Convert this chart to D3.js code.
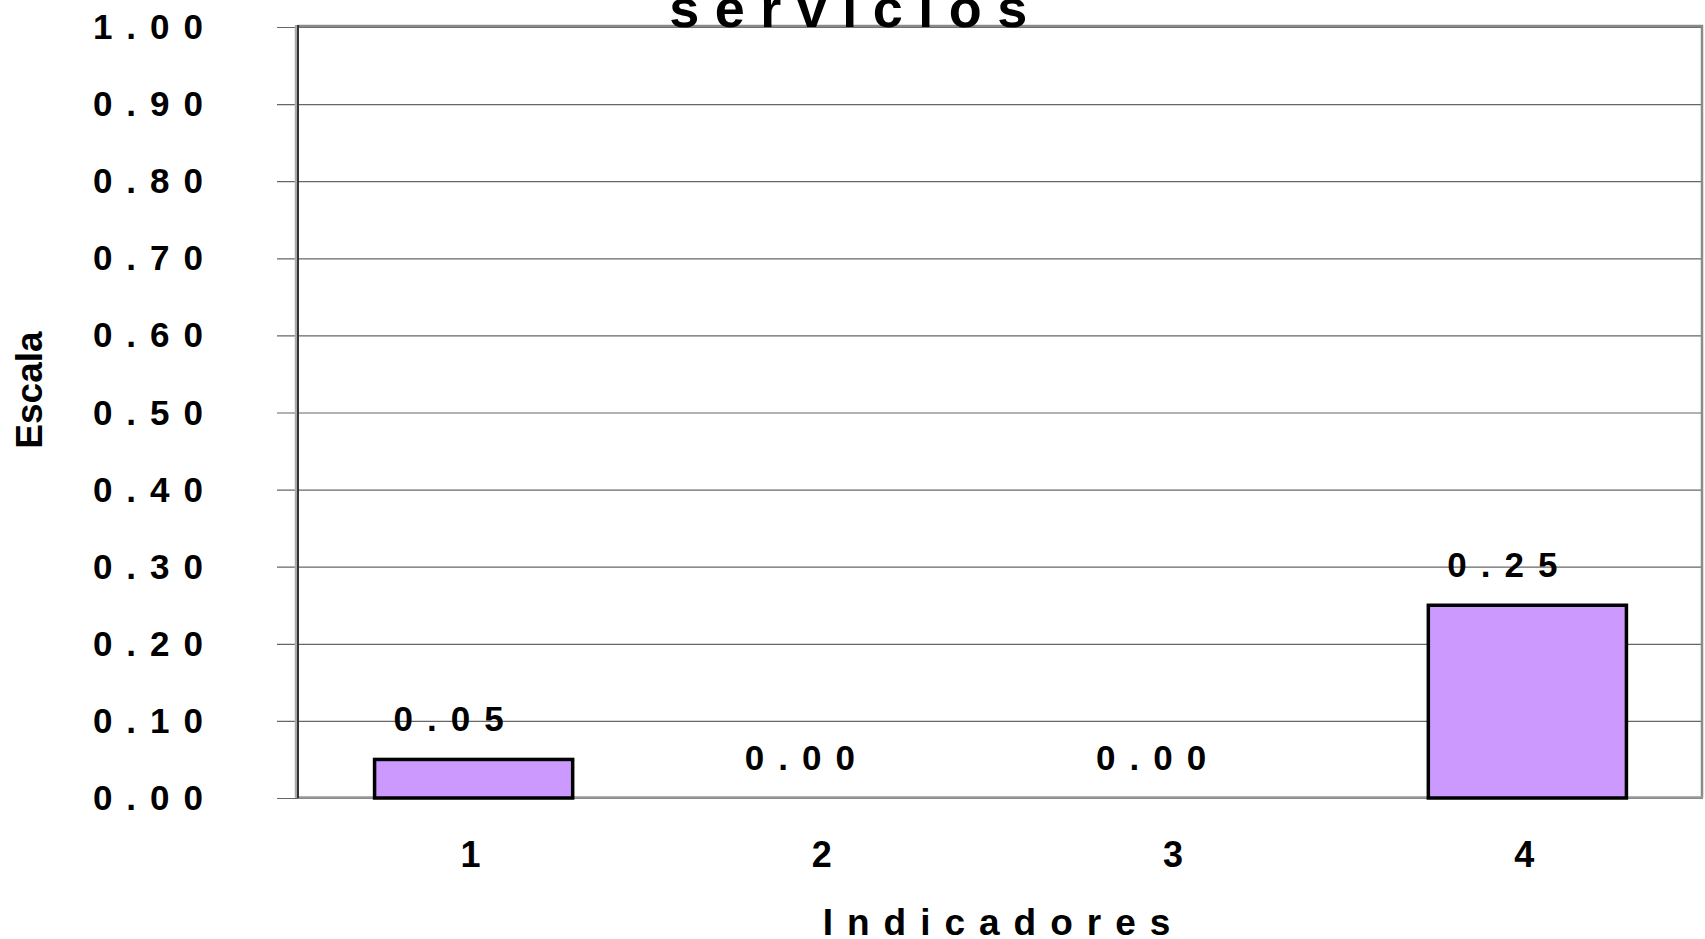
<!DOCTYPE html>
<html>
<head>
<meta charset="utf-8">
<script src="https://cdn.jsdelivr.net/npm/d3@7"></script>
<style>
  html, body { margin: 0; padding: 0; background: #ffffff; }
  svg { display: block; }
  text { font-family: "Liberation Sans", Arial, sans-serif; font-weight: bold; fill: #000; }
</style>
</head>
<body>
<svg id="chart" width="1705" height="939"></svg>
<script>
// Indicator values
const categories = [1, 2, 3, 4];
const values = [0.05, 0.00, 0.00, 0.25];
const yTicks = [0, 0.1, 0.2, 0.3, 0.4, 0.5, 0.6, 0.7, 0.8, 0.9, 1.0];
const titleText = "servicios";
const xTitle = "Indicadores";
const yTitle = "Escala";

const svg = d3.select("#chart");
const plotLeft = 298, plotRight = 1703, plotTop = 27, plotBottom = 798;

const x = d3.scaleBand()
  .domain(categories)
  .range([plotLeft, plotRight])
  .paddingInner(0.436)
  .paddingOuter(0.218);

const y = d3.scaleLinear().domain([0, 1]).range([plotBottom, plotTop]);
const fmt = d3.format(".2f");
const ls = 14;

// Horizontal gridlines, extended left as tick marks
svg.append("g")
  .attr("transform", `translate(${plotLeft},0)`)
  .call(d3.axisLeft(y).tickValues(yTicks).tickSize(-(plotRight - plotLeft)).tickFormat(""))
  .call(g => g.select(".domain").remove())
  .call(g => g.selectAll(".tick line")
    .attr("stroke", "#666").attr("stroke-width", 1.2)
    .attr("x1", -(plotLeft - 277)));

// Plot frame: top and right border, baseline
svg.append("line").attr("x1", plotLeft).attr("x2", plotRight).attr("y1", plotTop - 1).attr("y2", plotTop - 1)
  .attr("stroke", "#8a8a8a").attr("stroke-width", 2.5);
svg.append("line").attr("x1", plotRight - 1).attr("x2", plotRight - 1).attr("y1", plotTop - 2).attr("y2", plotBottom)
  .attr("stroke", "#8a8a8a").attr("stroke-width", 2.5);
svg.append("line").attr("x1", plotLeft).attr("x2", plotRight).attr("y1", plotBottom - 0.5).attr("y2", plotBottom - 0.5)
  .attr("stroke", "#999").attr("stroke-width", 2.5);

// Left axis line with its shadow
svg.append("line").attr("x1", plotLeft - 2).attr("x2", plotLeft - 2).attr("y1", plotTop - 2).attr("y2", plotBottom)
  .attr("stroke", "#aaa").attr("stroke-width", 2.5);
svg.append("line").attr("x1", plotLeft).attr("x2", plotLeft).attr("y1", plotTop - 2).attr("y2", plotBottom)
  .attr("stroke", "#333").attr("stroke-width", 2);

// Y tick labels
svg.append("g").selectAll("text")
  .data(yTicks)
  .join("text")
  .attr("x", 203 + ls)
  .attr("y", d => y(d) + 12)
  .attr("text-anchor", "end")
  .attr("font-size", 35)
  .attr("letter-spacing", ls)
  .text(d => fmt(d));

// Bars
svg.append("g").selectAll("rect")
  .data(values)
  .join("rect")
  .attr("x", (d, i) => x(categories[i]))
  .attr("y", d => y(d))
  .attr("width", x.bandwidth())
  .attr("height", d => y(0) - y(d))
  .attr("fill", "#cc99ff")
  .attr("stroke", d => d > 0 ? "#000" : "none")
  .attr("stroke-width", 3.5);

// Value labels
svg.append("g").selectAll("text")
  .data(values)
  .join("text")
  .attr("x", (d, i) => x(categories[i]) + x.bandwidth() / 2 - 18)
  .attr("y", d => y(d) - 28)
  .attr("text-anchor", "middle")
  .attr("font-size", 35)
  .attr("letter-spacing", ls)
  .text(d => fmt(d));

// Category labels
svg.append("g").selectAll("text")
  .data(categories)
  .join("text")
  .attr("x", d => x(d) + x.bandwidth() / 2 + 4)
  .attr("y", 867)
  .attr("text-anchor", "middle")
  .attr("font-size", 36)
  .attr("letter-spacing", ls)
  .text(d => d);

// Axis titles
svg.append("text")
  .attr("x", (plotLeft + plotRight) / 2 + 3)
  .attr("y", 935)
  .attr("text-anchor", "middle")
  .attr("font-size", 37)
  .attr("letter-spacing", ls)
  .text(xTitle);

svg.append("text")
  .attr("transform", "translate(42,390) rotate(-90)")
  .attr("text-anchor", "middle")
  .attr("font-size", 37)
  .text(yTitle);

// Chart title (its last line sits right at the top edge)
svg.append("text")
  .attr("x", 856)
  .attr("y", 27)
  .attr("text-anchor", "middle")
  .attr("font-size", 54)
  .attr("letter-spacing", 15.5)
  .text(titleText);
</script>
</body>
</html>
